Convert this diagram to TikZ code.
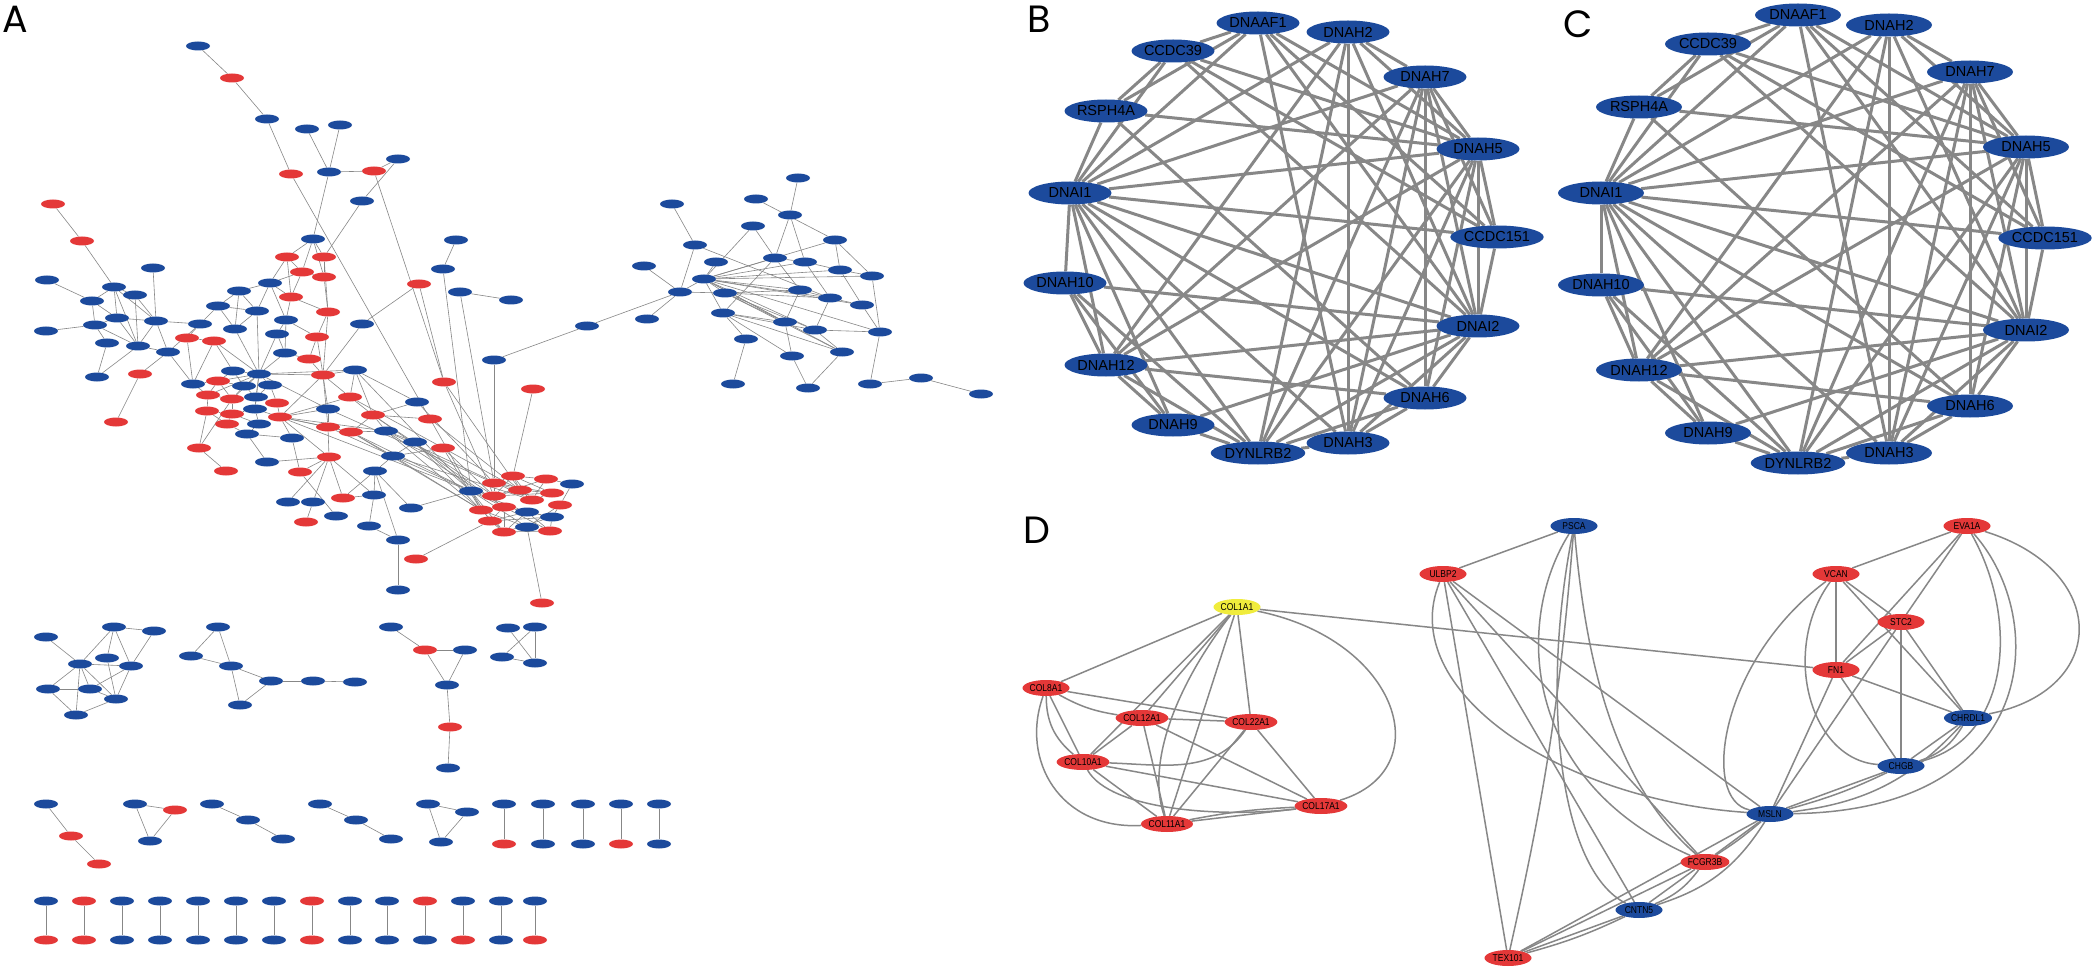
\documentclass[tikz,border=0pt]{standalone}
\usepackage{fontspec}
\setmainfont{Liberation Sans}
\newfontfamily\letterfont{Poppins}
\newfontfamily\narrowfont[FakeStretch=0.85]{Liberation Sans}
\usetikzlibrary{shapes.geometric,backgrounds}
\definecolor{nb}{RGB}{28,74,156}
\definecolor{nr}{RGB}{228,56,56}
\definecolor{ny}{RGB}{240,236,60}
\definecolor{edgegray}{RGB}{135,135,135}

\begin{document}
\begin{tikzpicture}[x=1pt,y=-1pt,
    anode/.style={shape=ellipse,inner sep=0pt,minimum width=24pt,minimum height=9pt},
    bnode/.style={shape=ellipse,fill=nb,inner sep=0pt,minimum width=83pt,minimum height=23pt,font=\fontsize{14.5}{15}\selectfont},
    dnode/.style={shape=ellipse,inner sep=0pt,minimum width=47pt,minimum height=16pt,font=\narrowfont\fontsize{10}{10}\selectfont},
    aedge/.style={draw=edgegray,line width=0.6pt},
    bedge/.style={draw=edgegray,line width=3pt},
    dedge/.style={draw=edgegray,line width=1.5pt},
    panel/.style={font=\letterfont\fontsize{38}{40}\selectfont,inner sep=0pt}]
\useasboundingbox (0,0) rectangle (2094,968);

% panel letters
\node[panel] (labA) at (15,19) {A};
\node[panel] (labB) at (1039,19) {B};
\node[panel] (labC) at (1578,24) {C};
\node[panel] (labD) at (1037,530) {D};

% A: whole network
\foreach \n/\x/\y/\c in {1/198/46/nb,2/232/78/nr,3/267/119/nb,4/307/129/nb,5/340/125/nb,6/398/159/nb,7/291/174/nr,8/329/172/nb,9/374/171/nr,10/362/201/nb,
  11/53/204/nr,12/82/241/nr,13/313/239/nb,14/287/257/nr,15/324/257/nr,16/302/272/nr,17/324/277/nr,18/456/240/nb,19/443/269/nb,20/419/284/nr,
  21/460/292/nb,22/153/268/nb,23/47/280/nb,24/114/287/nb,25/135/295/nb,26/92/301/nb,27/270/283/nb,28/239/291/nb,29/291/297/nr,30/218/306/nb,
  31/117/318/nb,32/156/321/nb,33/257/311/nb,34/286/320/nb,35/328/312/nr,36/362/324/nb,37/46/331/nb,38/95/325/nb,39/200/324/nb,40/235/329/nb,
  41/187/338/nr,42/214/341/nr,43/277/334/nb,44/317/337/nr,45/107/343/nb,46/138/346/nb,47/168/352/nb,48/285/353/nb,49/309/359/nr,50/233/371/nb,
  51/259/374/nb,52/323/375/nr,53/355/370/nb,54/97/377/nb,55/140/374/nr,56/193/384/nb,57/218/381/nr,58/244/386/nb,59/270/385/nb,60/208/395/nr,
  61/232/399/nr,62/256/397/nb,63/277/403/nr,64/350/397/nr,65/417/402/nb,66/207/411/nr,67/232/414/nr,68/255/409/nb,69/280/417/nr,70/328/409/nb,
  71/373/415/nr,72/430/419/nr,73/227/424/nr,74/259/424/nb,75/328/427/nr,76/351/432/nr,77/386/431/nb,78/116/422/nr,79/247/434/nb,80/292/438/nb,
  81/415/442/nb,82/443/448/nr,83/199/448/nr,84/329/457/nr,85/393/456/nb,86/511/300/nb,87/587/326/nb,88/494/360/nb,89/444/382/nr,90/533/389/nr,
  91/375/471/nb,95/300/472/nr,96/267/462/nb,97/226/471/nr,98/288/502/nb,99/313/502/nb,100/343/498/nr,101/374/495/nb,102/411/508/nb,103/306/522/nr,
  104/336/516/nb,105/369/526/nb,106/398/540/nb,107/416/559/nr,108/398/590/nb,
  109/513/476/nr,110/546/479/nr,111/572/484/nb,112/494/483/nr,113/520/490/nr,114/552/493/nr,115/471/491/nb,116/494/496/nr,117/532/500/nr,118/560/505/nr,
  119/481/510/nr,120/504/507/nr,121/527/512/nb,122/552/517/nb,123/490/521/nr,124/504/532/nr,125/527/527/nb,126/550/531/nr,127/542/603/nr,
  128/672/204/nb,129/756/199/nb,130/753/226/nb,131/695/245/nb,132/644/266/nb,133/716/262/nb,134/704/279/nb,135/680/292/nb,136/725/293/nb,137/647/319/nb,
  138/723/313/nb,139/746/339/nb,140/733/384/nb,141/798/178/nb,142/790/215/nb,143/835/240/nb,144/775/258/nb,145/805/262/nb,146/840/270/nb,147/872/276/nb,
  148/800/290/nb,149/830/298/nb,150/862/305/nb,151/785/322/nb,152/815/330/nb,153/880/332/nb,154/842/352/nb,155/792/356/nb,156/808/388/nb,157/870/384/nb,
  158/921/378/nb,159/981/394/nb,
  160/46/637/nb,161/114/627/nb,162/154/631/nb,163/107/658/nb,164/80/664/nb,165/131/666/nb,166/48/689/nb,167/90/689/nb,168/116/699/nb,169/76/715/nb,
  170/218/627/nb,171/191/656/nb,172/231/666/nb,173/271/681/nb,174/313/681/nb,175/355/682/nb,176/240/705/nb,177/391/627/nb,178/425/650/nr,179/465/650/nb,
  180/447/685/nb,181/450/727/nr,182/448/768/nb,183/508/628/nb,184/535/627/nb,185/502/657/nb,186/535/663/nb,187/46/804/nb,188/71/836/nr,189/99/864/nr,
  190/135/804/nb,191/175/810/nr,192/150/841/nb,193/212/804/nb,194/248/820/nb,195/283/839/nb,196/320/804/nb,197/356/820/nb,198/391/839/nb,199/428/804/nb,
  200/467/812/nb,201/441/842/nb}
  \node[anode,fill=\c] (a\n) at (\x,\y) {};
% A: pairs
\foreach \i/\x/\ct/\cb in {1/504/nb/nr,2/543/nb/nb,3/583/nb/nb,4/621/nb/nr,5/659/nb/nb}{
  \node[anode,fill=\ct] (mt\i) at (\x,804) {};
  \node[anode,fill=\cb] (mb\i) at (\x,844) {};
}
\foreach \i/\x/\ct/\cb in {1/46/nb/nr,2/84/nr/nr,3/122/nb/nb,4/160/nb/nb,5/198/nb/nb,6/236/nb/nb,7/274/nb/nb,8/312/nr/nr,9/350/nb/nb,10/387/nb/nb,11/425/nr/nb,12/463/nb/nr,13/501/nb/nb,14/535/nb/nr}{
  \node[anode,fill=\ct] (pt\i) at (\x,901) {};
  \node[anode,fill=\cb] (pb\i) at (\x,940) {};
}

% B and C: dynein module
\foreach \n/\x/\y/\t in {af1/1258/23/DNAAF1,h2/1348/32/DNAH2,c39/1173/51/CCDC39,h7/1425/77/DNAH7,rs/1106/111/RSPH4A,h5/1478/149/DNAH5,i1/1070/193/DNAI1,c151/1497/237/CCDC151,
  h10/1065/283/DNAH10,i2/1478/326/DNAI2,h12/1106/365/DNAH12,h6/1425/398/DNAH6,h9/1173/425/DNAH9,h3/1348/443/DNAH3,dy/1258/453/DYNLRB2}
  \node[bnode] (b\n) at (\x,\y) {\t};
\foreach \n/\x/\y/\t in {af1/1798/15/DNAAF1,h2/1889/25/DNAH2,c39/1708/44/CCDC39,h7/1970/72/DNAH7,rs/1639/107/RSPH4A,h5/2026/147/DNAH5,i1/1601/193/DNAI1,c151/2045/238/CCDC151,
  h10/1601/285/DNAH10,i2/2026/330/DNAI2,h12/1639/370/DNAH12,h6/1970/406/DNAH6,h9/1708/433/DNAH9,h3/1889/453/DNAH3,dy/1798/463/DYNLRB2}
  \node[bnode,minimum width=86pt] (c\n) at (\x,\y) {\t};

% D: hub genes
\node[dnode,fill=nb] (psca) at (1574,526) {PSCA};
\node[dnode,fill=nr] (ulbp2) at (1443,574) {ULBP2};
\node[dnode,fill=ny] (col1a1) at (1237,607) {COL1A1};
\node[dnode,fill=nr] (col8a1) at (1046,688) {COL8A1};
\node[dnode,fill=nr] (col12a1) at (1142,718) {COL12A1};
\node[dnode,fill=nr] (col22a1) at (1251,722) {COL22A1};
\node[dnode,fill=nr] (col10a1) at (1083,762) {COL10A1};
\node[dnode,fill=nr] (col17a1) at (1321,806) {COL17A1};
\node[dnode,fill=nr] (col11a1) at (1167,824) {COL11A1};
\node[dnode,fill=nr] (tex101) at (1508,958) {TEX101};
\node[dnode,fill=nr] (eva1a) at (1967,526) {EVA1A};
\node[dnode,fill=nr] (vcan) at (1836,574) {VCAN};
\node[dnode,fill=nr] (stc2) at (1901,622) {STC2};
\node[dnode,fill=nr] (fn1) at (1836,670) {FN1};
\node[dnode,fill=nb] (chrdl1) at (1968,718) {CHRDL1};
\node[dnode,fill=nb] (chgb) at (1901,766) {CHGB};
\node[dnode,fill=nb] (msln) at (1770,814) {MSLN};
\node[dnode,fill=nr] (fcgr3b) at (1705,862) {FCGR3B};
\node[dnode,fill=nb] (cntn5) at (1639,910) {CNTN5};

\begin{scope}[on background layer]
\fill[white] (0,0) rectangle (2094,968);
% A edges
\foreach \u/\v in {1/2,2/3,3/7,4/8,5/8,8/9,9/6,10/6,8/13,10/15,7/115,9/89,13/14,13/15,13/16,13/17,14/16,14/27,14/29,15/17,16/17,16/29,15/35,17/35,16/27,
  18/19,19/115,20/36,20/89,36/52,21/86,21/112,87/88,87/135,88/112,89/113,89/116,90/109,11/12,12/24,22/32,23/26,24/26,24/25,24/32,24/31,24/46,25/32,25/46,
  26/31,26/38,31/32,31/38,31/46,32/39,32/47,32/46,37/38,38/45,38/46,45/54,46/54,46/47,
  27/28,27/29,27/33,27/34,28/33,28/30,28/40,29/34,29/35,30/39,30/40,30/33,33/51,33/40,34/43,34/48,34/44,35/44,35/52,39/41,39/47,40/51,41/42,41/56,42/56,
  42/50,42/51,43/48,43/51,44/49,44/52,48/51,48/49,49/52,50/51,50/57,50/58,51/53,51/59,51/58,51/62,51/57,51/60,51/61,51/68,51/70,51/52,52/53,52/64,52/69,
  52/75,52/70,53/64,53/71,53/65,56/57,56/60,57/58,57/60,57/61,58/61,58/62,59/62,59/63,60/61,60/66,61/62,61/67,62/63,62/68,63/69,64/71,64/69,65/71,66/67,
  66/73,67/68,67/73,67/74,68/69,68/74,69/70,69/75,69/76,69/80,69/77,69/84,70/75,71/72,71/76,71/77,75/76,75/84,76/77,76/85,73/79,74/79,79/80,80/95,61/83,
  66/83,55/78,47/56,55/47,
  64/113,69/115,71/116,76/115,77/120,81/115,82/116,85/117,72/113,65/112,53/115,75/115,76/119,77/117,71/120,70/112,77/81,81/85,82/85,85/119,81/119,77/119,
  82/119,84/95,84/98,84/99,84/100,84/101,84/96,91/101,91/100,91/106,91/102,91/85,101/105,105/106,106/108,95/104,99/103,100/101,96/79,97/83,107/123,102/115,
  112/109,112/113,112/116,112/114,109/113,109/110,109/116,109/114,109/117,113/116,113/114,113/117,116/114,116/110,114/117,110/117,115/119,115/123,115/124,
  115/120,119/124,119/125,120/124,120/126,120/122,120/123,124/123,124/126,124/122,124/121,123/121,123/122,126/122,126/121,122/121,121/115,125/118,125/115,
  111/118,127/125,111/110,118/122,
  128/131,131/135,132/135,133/134,130/134,134/135,134/136,135/137,135/136,134/138,138/139,139/140,129/143,130/144,131/149,141/142,142/144,142/145,143/146,
  143/147,144/148,145/149,146/150,147/153,148/151,149/152,150/153,151/155,152/154,153/157,154/156,155/156,157/158,158/159,144/145,145/146,146/147,148/149,
  149/150,152/153,138/151,134/143,134/144,134/145,134/146,134/147,134/148,134/149,134/150,134/151,134/152,134/153,134/154,136/148,136/149,136/151,136/152,
  136/154,138/152,138/154,138/155,138/144,
  160/164,161/162,161/164,161/163,161/165,162/165,164/165,164/166,164/167,164/169,164/168,163/168,165/168,165/167,166/167,166/169,168/169,167/168,
  170/171,170/172,171/172,172/173,172/176,173/176,173/174,174/175,177/178,178/179,178/180,179/180,180/181,181/182,183/186,184/185,184/186,185/186,
  187/188,188/189,190/191,190/192,191/192,193/194,194/195,196/197,197/198,199/200,199/201,200/201}
  \draw[aedge] (a\u) -- (a\v);
\foreach \i in {1,...,5} \draw[aedge] (mt\i) -- (mb\i);
\foreach \i in {1,...,14} \draw[aedge] (pt\i) -- (pb\i);

% B and C edges
\foreach \u/\v in {af1/c39,af1/rs,af1/i1,af1/h5,af1/c151,af1/i2,af1/h3,c39/rs,c39/i1,c39/h5,c39/c151,c39/i2,rs/i1,rs/h5,rs/h6,
  i1/h2,i1/h7,i1/h5,i1/c151,i1/i2,i1/h6,i1/h3,i1/dy,i1/h9,i1/h12,i1/h10,h10/i2,h10/h12,h10/h9,h10/dy,
  h12/h2,h12/h7,h12/i2,h12/h6,h12/h9,h12/dy,h12/h5,h9/i2,h9/dy,dy/h2,dy/h7,dy/h5,dy/i2,dy/h6,dy/h3,
  h3/h2,h3/h7,h3/h5,h3/i2,h3/h6,h6/h5,h6/i2,h6/h7,i2/h5,i2/h7,i2/h2,i2/c151,h5/h7,h5/h2,c151/h5,c151/h7,h2/h7}{
  \draw[bedge] (b\u) -- (b\v);
  \draw[bedge] (c\u) -- (c\v);
}

% D edges
\draw[dedge] (col1a1) -- (fn1);
\draw[dedge] (col1a1) -- (col8a1);
\draw[dedge] (col1a1) -- (col12a1);
\draw[dedge] (col1a1) -- (col10a1);
\draw[dedge] (col1a1) -- (col11a1);
\draw[dedge] (col1a1) -- (col22a1);
\draw[dedge] (col1a1) .. controls (1180,680) and (1145,760) .. (col11a1);
\draw[dedge] (col1a1) .. controls (1400,640) and (1440,770) .. (col17a1);
\draw[dedge] (col8a1) -- (col22a1);
\draw[dedge] (col8a1) to[bend right=10] (col12a1);
\draw[dedge] (col8a1) -- (col10a1);
\draw[dedge] (col8a1) to[bend right=25] (col10a1);
\draw[dedge] (col8a1) .. controls (1020,760) and (1060,830) .. (col11a1);
\draw[dedge] (col12a1) -- (col22a1);
\draw[dedge] (col12a1) -- (col10a1);
\draw[dedge] (col12a1) -- (col11a1);
\draw[dedge] (col12a1) -- (col17a1);
\draw[dedge] (col10a1) to[out=-2,in=-125] (col22a1);
\draw[dedge] (col22a1) -- (col11a1);
\draw[dedge] (col22a1) -- (col17a1);
\draw[dedge] (col10a1) -- (col17a1);
\draw[dedge] (col10a1) -- (col11a1);
\draw[dedge] (col10a1) .. controls (1110,810) and (1220,818) .. (col17a1);
\draw[dedge] (col11a1) -- (col17a1);
\draw[dedge] (col11a1) to[bend left=4] (col17a1);
\draw[dedge] (psca) -- (ulbp2);
\draw[dedge] (psca) to[bend left=4] (tex101);
\draw[dedge] (psca) .. controls (1515,620) and (1520,780) .. (fcgr3b);
\draw[dedge] (psca) .. controls (1585,650) and (1610,780) .. (fcgr3b);
\draw[dedge] (psca) .. controls (1540,700) and (1560,870) .. (cntn5);
\draw[dedge] (ulbp2) -- (tex101);
\draw[dedge] (ulbp2) .. controls (1395,690) and (1560,800) .. (msln);
\draw[dedge] (ulbp2) -- (msln);
\draw[dedge] (ulbp2) -- (fcgr3b);
\draw[dedge] (ulbp2) -- (cntn5);
\draw[dedge] (eva1a) -- (vcan);
\draw[dedge] (eva1a) -- (stc2);
\draw[dedge] (eva1a) -- (fn1);
\draw[dedge] (eva1a) .. controls (2110,570) and (2110,690) .. (chrdl1);
\draw[dedge] (eva1a) .. controls (2020,620) and (2010,740) .. (chgb);
\draw[dedge] (eva1a) .. controls (2050,620) and (2040,810) .. (msln);
\draw[dedge] (vcan) -- (fn1);
\draw[dedge] (vcan) -- (stc2);
\draw[dedge] (vcan) -- (chrdl1);
\draw[dedge] (vcan) .. controls (1720,660) and (1700,800) .. (msln);
\draw[dedge] (vcan) .. controls (1780,650) and (1810,760) .. (chgb);
\draw[dedge] (stc2) -- (fn1);
\draw[dedge] (stc2) -- (chgb);
\draw[dedge] (stc2) -- (chrdl1);
\draw[dedge] (stc2) -- (msln);
\draw[dedge] (fn1) -- (chrdl1);
\draw[dedge] (fn1) -- (chgb);
\draw[dedge] (fn1) -- (msln);
\draw[dedge] (chrdl1) -- (chgb);
\draw[dedge] (chrdl1) to[bend left=20] (chgb);
\draw[dedge] (chrdl1) to[bend left=20] (msln);
\draw[dedge] (chgb) -- (msln);
\draw[dedge] (chgb) to[bend left=5] (msln);
\draw[dedge] (msln) -- (fcgr3b);
\draw[dedge] (msln) to[bend left=4] (fcgr3b);
\draw[dedge] (msln) to[bend left=20] (cntn5);
\draw[dedge] (msln) -- (tex101);
\draw[dedge] (fcgr3b) -- (cntn5);
\draw[dedge] (fcgr3b) to[bend left=15] (cntn5);
\draw[dedge] (fcgr3b) -- (tex101);
\draw[dedge] (cntn5) -- (tex101);
\draw[dedge] (cntn5) to[bend left=5] (tex101);
\end{scope}
\end{tikzpicture}
\end{document}
